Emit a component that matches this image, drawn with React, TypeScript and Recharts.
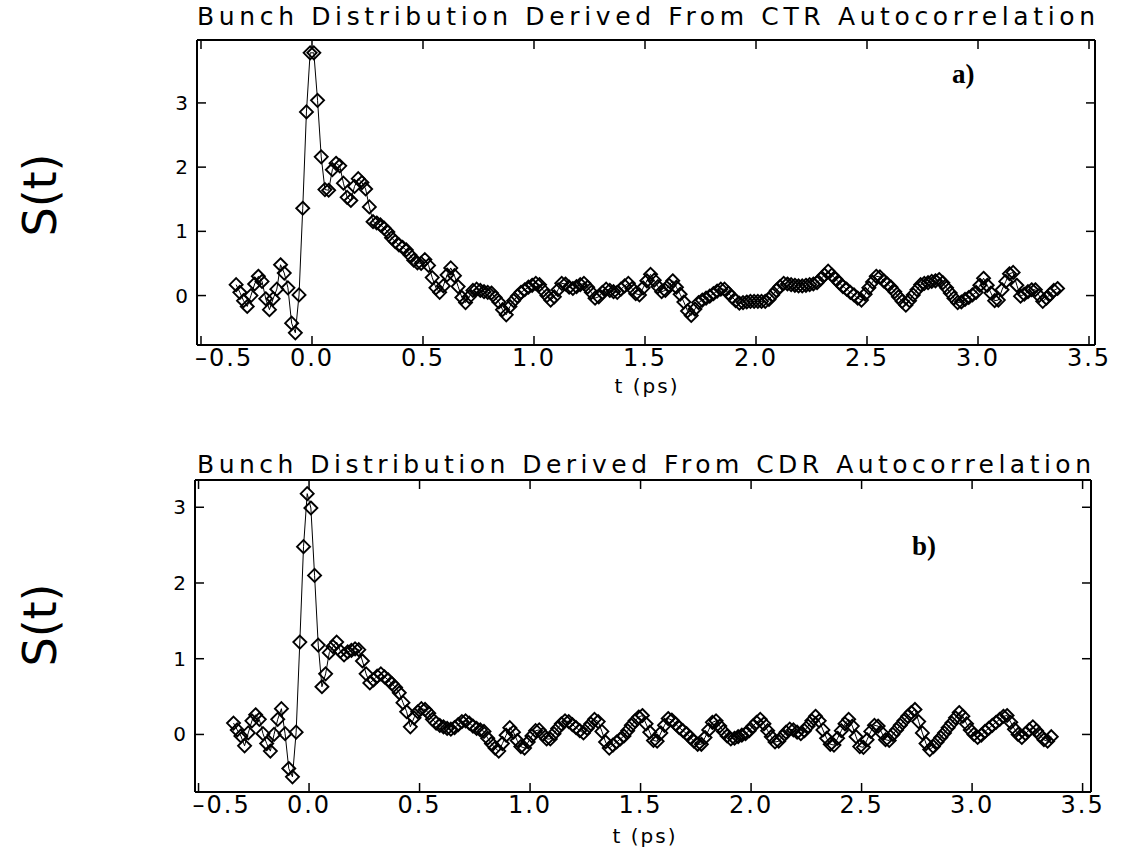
import React from 'react';
import { LineChart, Line, XAxis, YAxis } from 'recharts';

// sampling grid of the delay axis (ps)
const T_FIRST = -0.3417;
const T_STEP = 1 / 60;

const X_TICKS = [-0.5, 0, 0.5, 1, 1.5, 2, 2.5, 3, 3.5];
const X_TICK_LABELS = ['\u20130.5', '0.0', '0.5', '1.0', '1.5', '2.0', '2.5', '3.0', '3.5'];
const Y_TICKS = [0, 1, 2, 3];
const Y_TICK_LABELS = ['0', '1', '2', '3'];

const TITLE_A = 'Bunch Distribution Derived From CTR Autocorrelation';
const TITLE_B = 'Bunch Distribution Derived From CDR Autocorrelation';
const X_LABEL = 't (ps)';
const Y_LABEL = 'S(t)';

// S(t) from CTR autocorrelation (panel a)
const S_CTR = [
  0.17, 0.05, -0.08, -0.17, 0.0, 0.18, 0.30, 0.22, -0.05, -0.22,
  -0.05, 0.10, 0.48, 0.35, 0.12, -0.43, -0.58, 0.01, 1.36, 2.86,
  3.78, 3.78, 3.04, 2.16, 1.65, 1.64, 1.96, 2.06, 2.02, 1.75,
  1.53, 1.48, 1.70, 1.82, 1.76, 1.66, 1.38, 1.15, 1.13, 1.10,
  1.05, 0.99, 0.90, 0.84, 0.79, 0.75, 0.71, 0.63, 0.55, 0.51,
  0.50, 0.56, 0.47, 0.28, 0.12, 0.05, 0.15, 0.32, 0.43, 0.31,
  0.14, -0.03, -0.11, -0.02, 0.08, 0.10, 0.08, 0.06, 0.05, 0.04,
  -0.03, -0.10, -0.22, -0.30, -0.17, -0.08, -0.01, 0.05, 0.09, 0.13,
  0.16, 0.19, 0.17, 0.08, 0.00, -0.07, -0.02, 0.09, 0.19, 0.18,
  0.13, 0.11, 0.14, 0.17, 0.19, 0.13, 0.05, -0.04, -0.02, 0.05,
  0.10, 0.08, 0.06, 0.05, 0.10, 0.15, 0.19, 0.11, 0.03, 0.01,
  0.12, 0.23, 0.33, 0.24, 0.14, 0.06, 0.08, 0.16, 0.23, 0.13,
  0.02, -0.10, -0.24, -0.31, -0.21, -0.11, -0.07, -0.04, -0.01, 0.03,
  0.07, 0.10, 0.10, 0.04, -0.02, -0.08, -0.12, -0.11, -0.10, -0.09,
  -0.09, -0.09, -0.09, -0.09, -0.06, 0.01, 0.08, 0.14, 0.19, 0.18,
  0.17, 0.16, 0.15, 0.15, 0.16, 0.17, 0.18, 0.20, 0.26, 0.32,
  0.38, 0.32, 0.26, 0.20, 0.14, 0.10, 0.05, 0.01, -0.04, -0.07,
  0.02, 0.12, 0.21, 0.30, 0.29, 0.23, 0.18, 0.13, 0.06, -0.02,
  -0.09, -0.15, -0.08, 0.01, 0.09, 0.17, 0.19, 0.20, 0.22, 0.23,
  0.25, 0.20, 0.12, 0.04, -0.04, -0.11, -0.10, -0.06, -0.03, 0.01,
  0.05, 0.16, 0.27, 0.16, 0.04, -0.08, -0.07, 0.09, 0.22, 0.34,
  0.36, 0.16, -0.01, 0.02, 0.06, 0.09, 0.09, 0.00, -0.09, -0.04,
  0.02, 0.08, 0.11,
];

// S(t) from CDR autocorrelation (panel b)
const S_CDR = [
  0.15, 0.06, -0.02, -0.15, 0.02, 0.18, 0.26, 0.20, 0.01, -0.12,
  -0.22, 0.00, 0.20, 0.34, 0.01, -0.45, -0.56, 0.03, 1.22, 2.48,
  3.18, 2.99, 2.10, 1.18, 0.63, 0.80, 1.08, 1.16, 1.22, 1.10,
  1.05, 1.09, 1.11, 1.13, 1.12, 0.97, 0.80, 0.68, 0.72, 0.77,
  0.80, 0.76, 0.72, 0.67, 0.62, 0.55, 0.42, 0.30, 0.10, 0.22,
  0.30, 0.34, 0.33, 0.28, 0.20, 0.15, 0.12, 0.10, 0.08, 0.07,
  0.09, 0.13, 0.17, 0.18, 0.15, 0.11, 0.08, 0.06, 0.04, -0.05,
  -0.12, -0.18, -0.22, -0.12, -0.01, 0.09, 0.03, -0.08, -0.16, -0.18,
  -0.10, -0.02, 0.05, 0.06, 0.00, -0.06, -0.06, 0.01, 0.08, 0.14,
  0.18, 0.17, 0.13, 0.09, 0.05, 0.02, 0.08, 0.14, 0.20, 0.17,
  0.04, -0.10, -0.18, -0.14, -0.10, -0.06, -0.02, 0.05, 0.12, 0.18,
  0.23, 0.25, 0.14, 0.03, -0.08, -0.09, 0.02, 0.12, 0.21, 0.19,
  0.14, 0.09, 0.05, 0.01, -0.04, -0.09, -0.13, -0.13, -0.04, 0.06,
  0.16, 0.18, 0.11, 0.04, -0.02, -0.06, -0.05, -0.03, -0.01, 0.01,
  0.05, 0.11, 0.16, 0.20, 0.14, 0.05, -0.03, -0.10, -0.09, -0.03,
  0.03, 0.07, 0.06, 0.03, 0.01, 0.05, 0.11, 0.18, 0.24, 0.18,
  0.06, -0.05, -0.13, -0.14, -0.05, 0.05, 0.14, 0.20, 0.11, -0.03,
  -0.16, -0.17, -0.07, 0.04, 0.12, 0.11, 0.02, -0.07, -0.08, 0.00,
  0.06, 0.12, 0.18, 0.24, 0.29, 0.33, 0.17, 0.02, -0.12, -0.20,
  -0.16, -0.10, -0.04, 0.02, 0.09, 0.15, 0.22, 0.29, 0.24, 0.14,
  0.06, 0.00, -0.04, -0.01, 0.04, 0.08, 0.12, 0.16, 0.20, 0.24,
  0.25, 0.16, 0.07, 0.00, -0.04, 0.01, 0.06, 0.10, 0.05, -0.01,
  -0.07, -0.09, -0.03,
];

const toRows = (vals: number[]) =>
  vals.map((s, i) => ({ t: +(T_FIRST + i * T_STEP).toFixed(4), s }));

const DATA_A = toRows(S_CTR);
const DATA_B = toRows(S_CDR);

const FONT = "'DejaVu Sans', 'Liberation Sans', sans-serif";
const TICK_LEN = 9;

const xIndex = (v: number) => X_TICKS.findIndex((t) => Math.abs(t - v) < 1e-6);
const yLabel = (v: number) => {
  const k = Y_TICKS.findIndex((t) => Math.abs(t - v) < 1e-6);
  return k >= 0 ? Y_TICK_LABELS[k] : String(v);
};

const BottomTick = (props: any) => {
  const { x, y, payload } = props;
  const k = xIndex(payload.value);
  const first = k === 0;
  return (
    <g>
      <line x1={x} y1={y} x2={x} y2={y - TICK_LEN} stroke="#000" strokeWidth={1.5} />
      <text
        x={first ? x - 6 : x}
        y={y + 21}
        textAnchor={first ? 'start' : 'middle'}
        fontFamily={FONT}
        fontSize={24}
        letterSpacing={2}
        fill="#000"
      >
        {k >= 0 ? X_TICK_LABELS[k] : String(payload.value)}
      </text>
    </g>
  );
};

const TopTick = (props: any) => {
  const { x, y } = props;
  return <line x1={x} y1={y} x2={x} y2={y + TICK_LEN} stroke="#000" strokeWidth={1.5} />;
};

const LeftTick = (props: any) => {
  const { x, y, payload } = props;
  return (
    <g>
      <line x1={x} y1={y} x2={x + TICK_LEN} y2={y} stroke="#000" strokeWidth={1.5} />
      <text x={x - 9} y={y + 7} textAnchor="end" fontFamily={FONT} fontSize={20} fill="#000">
        {yLabel(payload.value)}
      </text>
    </g>
  );
};

const RightTick = (props: any) => {
  const { x, y } = props;
  return <line x1={x} y1={y} x2={x - TICK_LEN} y2={y} stroke="#000" strokeWidth={1.5} />;
};

const Diamond = (props: any) => {
  const { cx, cy, index } = props;
  if (cx == null || cy == null) return <g key={index} />;
  const w = 6.5;
  return (
    <path
      key={index}
      d={`M${cx},${cy - w}L${cx + w},${cy}L${cx},${cy + w}L${cx - w},${cy}Z`}
      fill="none"
      stroke="#000"
      strokeWidth={1.9}
    />
  );
};

type PanelProps = {
  data: { t: number; s: number }[];
  height: number;
  left: number;
  right: number;
  xAxisHeight: number;
  xDomain: [number, number];
  yDomain: [number, number];
};

const AXIS_LINE = { stroke: '#000', strokeWidth: 2 };

const Panel = ({ data, height, left, right, xAxisHeight, xDomain, yDomain }: PanelProps) => (
  <LineChart width={1125} height={height} data={data} margin={{ top: 39, right: right - 1, bottom: 0, left: 0 }}>
    <XAxis
      xAxisId="b"
      dataKey="t"
      type="number"
      domain={xDomain}
      ticks={X_TICKS}
      interval={0}
      allowDataOverflow
      height={xAxisHeight}
      tickLine={false}
      tickSize={0}
      tickMargin={0}
      axisLine={AXIS_LINE}
      tick={<BottomTick />}
    />
    <XAxis
      xAxisId="t"
      orientation="top"
      dataKey="t"
      type="number"
      domain={xDomain}
      ticks={X_TICKS}
      interval={0}
      allowDataOverflow
      height={1}
      tickLine={false}
      tickSize={0}
      tickMargin={0}
      axisLine={AXIS_LINE}
      tick={<TopTick />}
    />
    <YAxis
      yAxisId="l"
      type="number"
      domain={yDomain}
      ticks={Y_TICKS}
      interval={0}
      allowDataOverflow
      width={left}
      tickLine={false}
      tickSize={0}
      tickMargin={0}
      axisLine={AXIS_LINE}
      tick={<LeftTick />}
    />
    <YAxis
      yAxisId="r"
      orientation="right"
      type="number"
      domain={yDomain}
      ticks={Y_TICKS}
      interval={0}
      allowDataOverflow
      width={1}
      tickLine={false}
      tickSize={0}
      tickMargin={0}
      axisLine={AXIS_LINE}
      tick={<RightTick />}
    />
    <Line
      xAxisId="b"
      yAxisId="l"
      type="linear"
      dataKey="s"
      stroke="#000"
      strokeWidth={1}
      dot={Diamond}
      activeDot={false}
      isAnimationActive={false}
    />
  </LineChart>
);

export default function App() {
  return (
    <div style={{ position: 'absolute', left: 0, top: 0, width: 1125, height: 857, background: '#fff', overflow: 'hidden' }}>
      <div style={{ position: 'absolute', left: 0, top: 0 }}>
        <Panel data={DATA_A} height={420} left={197} right={30} xAxisHeight={75} xDomain={[-0.518, 3.527]} yDomain={[-0.77, 3.98]} />
      </div>
      <div style={{ position: 'absolute', left: 0, top: 440 }}>
        <Panel data={DATA_B} height={417} left={195} right={34} xAxisHeight={65} xDomain={[-0.516, 3.538]} yDomain={[-0.76, 3.36]} />
      </div>
      <svg width={1125} height={857} style={{ position: 'absolute', left: 0, top: 0, pointerEvents: 'none' }}>
        <text x={197} y={25} fontFamily={FONT} fontSize={25} textLength={898} lengthAdjust="spacing" fill="#000">{TITLE_A}</text>
        <text x={197} y={473} fontFamily={FONT} fontSize={25} textLength={894} lengthAdjust="spacing" fill="#000">{TITLE_B}</text>
        <text x={647} y={393} textAnchor="middle" fontFamily={FONT} fontSize={20} letterSpacing={2} fill="#000">{X_LABEL}</text>
        <text x={645} y={843} textAnchor="middle" fontFamily={FONT} fontSize={20} letterSpacing={2} fill="#000">{X_LABEL}</text>
        <text transform="translate(56,195) rotate(-90)" textAnchor="middle" fontFamily={FONT} fontSize={46} fill="#000">{Y_LABEL}</text>
        <text transform="translate(56,625) rotate(-90)" textAnchor="middle" fontFamily={FONT} fontSize={46} fill="#000">{Y_LABEL}</text>
        <text x={952} y={83} fontFamily="'Liberation Serif', serif" fontWeight="bold" fontSize={27} fill="#000">a)</text>
        <text x={912} y={555} fontFamily="'Liberation Serif', serif" fontWeight="bold" fontSize={27} fill="#000">b)</text>
      </svg>
    </div>
  );
}
